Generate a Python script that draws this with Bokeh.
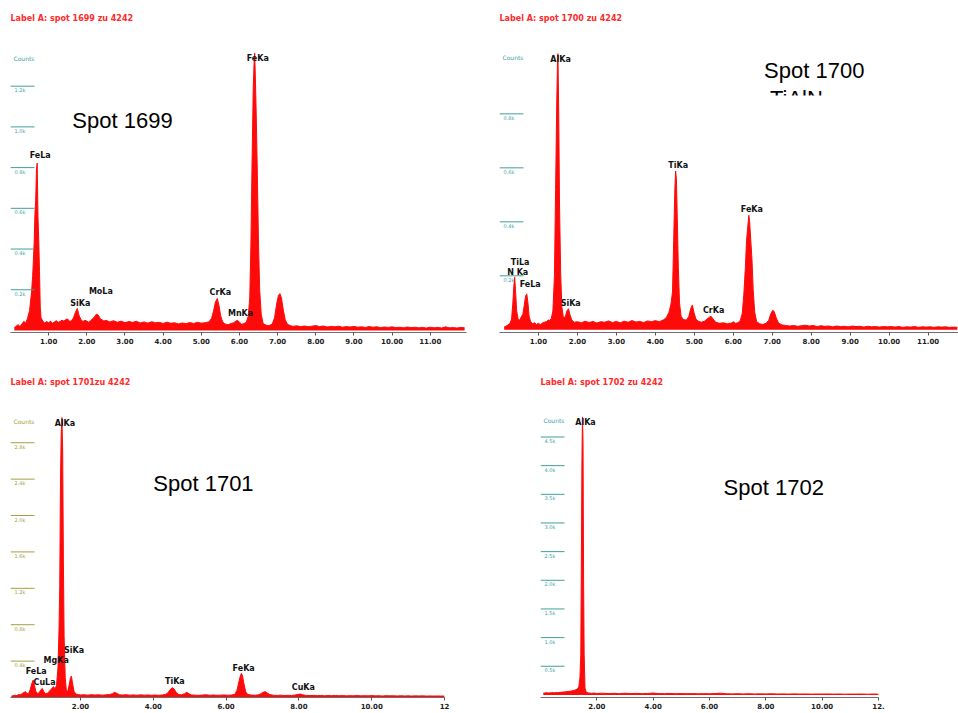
from bokeh.plotting import figure
from bokeh.layouts import column, row
from bokeh.models import (Range1d, FixedTicker, PrintfTickFormatter, Label,
                          BoxAnnotation, ColumnDataSource)
from bokeh.core.properties import value
from bokeh.embed import file_html
from bokeh.resources import INLINE

# ---------------------------------------------------------------------------
# EDX spectra: (energy in keV, counts)
# ---------------------------------------------------------------------------
spot1699 = [
    (0.10, 12), (0.15, 22), (0.20, 28), (0.25, 20), (0.30, 32), (0.35, 45), (0.40, 36),
    (0.45, 62), (0.50, 98), (0.55, 185), (0.58, 265), (0.60, 345), (0.62, 430), (0.64, 570),
    (0.66, 640), (0.68, 790), (0.70, 822), (0.72, 560), (0.74, 445), (0.76, 290), (0.78, 115),
    (0.80, 62), (0.85, 45), (0.90, 36), (0.95, 44), (1.00, 38), (1.05, 46), (1.10, 35),
    (1.15, 42), (1.20, 48), (1.25, 40), (1.30, 44), (1.35, 50), (1.40, 46), (1.45, 54),
    (1.50, 56), (1.55, 44), (1.60, 48), (1.65, 62), (1.70, 88), (1.75, 108), (1.80, 72),
    (1.85, 52), (1.90, 44), (1.95, 50), (2.00, 46), (2.05, 40), (2.10, 48), (2.15, 58),
    (2.20, 66), (2.25, 80), (2.30, 76), (2.35, 58), (2.40, 52), (2.45, 46), (2.50, 50),
    (2.60, 42), (2.70, 48), (2.80, 40), (2.90, 46), (3.00, 38), (3.10, 44), (3.20, 40),
    (3.30, 45), (3.40, 37), (3.50, 42), (3.60, 36), (3.70, 43), (3.80, 38), (3.90, 40),
    (4.00, 34), (4.10, 41), (4.20, 35), (4.30, 38), (4.40, 32), (4.50, 37), (4.60, 33),
    (4.70, 39), (4.80, 34), (4.90, 40), (5.00, 36), (5.10, 38), (5.20, 42), (5.27, 60),
    (5.32, 95), (5.37, 140), (5.42, 157), (5.46, 125), (5.51, 70), (5.56, 42), (5.62, 32),
    (5.70, 28), (5.78, 34), (5.85, 38), (5.91, 46), (5.95, 50), (6.00, 40), (6.06, 30),
    (6.12, 34), (6.18, 40), (6.23, 70), (6.27, 160), (6.30, 420), (6.33, 820), (6.36, 1180),
    (6.38, 1300), (6.40, 1362), (6.42, 1220), (6.44, 1060), (6.47, 760), (6.50, 420),
    (6.53, 200), (6.57, 80), (6.62, 34), (6.70, 26), (6.78, 24), (6.86, 32), (6.92, 62),
    (6.97, 125), (7.02, 172), (7.06, 181), (7.10, 160), (7.15, 100), (7.20, 52), (7.26, 30),
    (7.33, 24), (7.40, 20), (7.50, 23), (7.60, 19), (7.70, 22), (7.80, 18), (7.90, 21),
    (8.00, 24), (8.10, 19), (8.20, 22), (8.30, 17), (8.40, 20), (8.50, 18), (8.60, 21),
    (8.70, 16), (8.80, 19), (8.90, 17), (9.00, 20), (9.10, 16), (9.20, 18), (9.30, 15),
    (9.40, 19), (9.50, 16), (9.60, 18), (9.70, 14), (9.80, 17), (9.90, 15), (10.00, 18),
    (10.10, 14), (10.20, 16), (10.30, 13), (10.40, 17), (10.50, 14), (10.60, 16), (10.70, 13),
    (10.80, 15), (10.90, 12), (11.00, 16), (11.10, 13), (11.20, 15), (11.30, 12), (11.40, 18),
    (11.50, 13), (11.60, 14), (11.70, 12), (11.80, 15), (11.90, 13),
]

spot1700 = [
    (0.12, 10), (0.17, 14), (0.22, 18), (0.27, 24), (0.31, 40), (0.34, 95), (0.37, 165),
    (0.39, 195), (0.41, 150), (0.44, 70), (0.48, 38), (0.52, 36), (0.56, 48), (0.60, 58),
    (0.64, 95), (0.67, 125), (0.70, 133), (0.73, 100), (0.76, 50), (0.80, 30), (0.85, 22),
    (0.90, 26), (0.95, 20), (1.00, 24), (1.05, 19), (1.10, 25), (1.15, 28), (1.20, 30),
    (1.25, 36), (1.29, 35), (1.33, 42), (1.37, 70), (1.41, 200), (1.44, 520), (1.47, 850),
    (1.49, 1000), (1.50, 1023), (1.52, 800), (1.54, 470), (1.57, 210), (1.60, 85), (1.64, 45),
    (1.69, 48), (1.73, 70), (1.77, 78), (1.81, 55), (1.86, 35), (1.92, 28), (2.00, 30),
    (2.10, 26), (2.20, 32), (2.30, 27), (2.40, 31), (2.50, 25), (2.60, 30), (2.70, 28),
    (2.80, 33), (2.90, 27), (3.00, 31), (3.10, 26), (3.20, 32), (3.30, 28), (3.40, 34),
    (3.50, 29), (3.60, 31), (3.70, 27), (3.80, 33), (3.90, 30), (4.00, 34), (4.10, 30),
    (4.20, 36), (4.28, 45), (4.35, 65), (4.40, 95), (4.44, 140), (4.47, 330), (4.50, 520),
    (4.52, 588), (4.54, 560), (4.56, 430), (4.59, 230), (4.62, 100), (4.66, 50), (4.72, 38),
    (4.80, 36), (4.86, 50), (4.91, 80), (4.95, 92), (4.99, 65), (5.04, 40), (5.10, 32),
    (5.18, 28), (5.26, 32), (5.33, 40), (5.38, 46), (5.43, 50), (5.48, 40), (5.55, 28),
    (5.65, 24), (5.75, 26), (5.85, 22), (5.95, 25), (6.00, 30), (6.05, 24), (6.12, 26),
    (6.18, 35), (6.23, 60), (6.27, 130), (6.31, 230), (6.34, 330), (6.37, 380), (6.40, 424),
    (6.42, 400), (6.45, 330), (6.48, 260), (6.51, 150), (6.55, 65), (6.60, 30), (6.68, 22),
    (6.76, 20), (6.84, 24), (6.91, 35), (6.96, 58), (7.01, 72), (7.05, 68), (7.10, 45),
    (7.16, 25), (7.25, 18), (7.35, 16), (7.45, 14), (7.55, 16), (7.65, 13), (7.75, 15),
    (7.85, 17), (7.95, 14), (8.05, 16), (8.15, 12), (8.25, 15), (8.35, 13), (8.45, 14),
    (8.55, 11), (8.65, 14), (8.75, 12), (8.85, 13), (8.95, 11), (9.05, 14), (9.15, 12),
    (9.25, 13), (9.35, 10), (9.45, 13), (9.55, 11), (9.65, 12), (9.75, 10), (9.85, 12),
    (9.95, 11), (10.05, 12), (10.15, 10), (10.25, 12), (10.35, 9), (10.45, 11), (10.55, 10),
    (10.65, 12), (10.75, 9), (10.85, 11), (10.95, 10), (11.05, 11), (11.15, 9), (11.25, 11),
    (11.35, 10), (11.45, 11), (11.55, 9), (11.65, 10), (11.75, 9),
]

spot1701 = [
    (0.10, 15), (0.15, 20), (0.20, 25), (0.25, 22), (0.30, 32), (0.35, 30), (0.40, 45),
    (0.45, 55), (0.49, 65), (0.53, 42), (0.58, 48), (0.62, 90), (0.66, 150), (0.70, 192),
    (0.73, 145), (0.77, 70), (0.81, 45), (0.86, 50), (0.91, 85), (0.95, 100), (0.99, 65),
    (1.04, 42), (1.09, 48), (1.15, 70), (1.21, 100), (1.26, 119), (1.30, 95), (1.34, 130),
    (1.38, 320), (1.41, 750), (1.43, 1220), (1.45, 2390), (1.47, 2900), (1.49, 3076),
    (1.51, 2720), (1.53, 1510), (1.55, 670), (1.58, 220), (1.61, 85), (1.65, 65), (1.69, 140),
    (1.72, 210), (1.75, 236), (1.78, 160), (1.82, 70), (1.87, 38), (1.94, 32), (2.00, 28),
    (2.10, 30), (2.20, 26), (2.30, 31), (2.40, 27), (2.50, 30), (2.60, 26), (2.70, 29),
    (2.80, 33), (2.88, 42), (2.94, 57), (3.00, 45), (3.07, 30), (3.15, 27), (3.25, 30),
    (3.35, 26), (3.45, 28), (3.55, 25), (3.65, 29), (3.75, 26), (3.85, 28), (3.95, 25),
    (4.05, 27), (4.15, 24), (4.25, 28), (4.33, 34), (4.40, 50), (4.46, 85), (4.52, 108),
    (4.57, 95), (4.63, 55), (4.70, 32), (4.78, 30), (4.86, 42), (4.92, 57), (4.98, 40),
    (5.05, 28), (5.15, 26), (5.25, 24), (5.35, 27), (5.45, 30), (5.55, 25), (5.65, 27),
    (5.75, 24), (5.85, 26), (5.95, 28), (6.05, 25), (6.15, 27), (6.24, 35), (6.30, 80),
    (6.35, 170), (6.39, 235), (6.42, 265), (6.45, 240), (6.49, 150), (6.54, 60), (6.60, 32),
    (6.70, 27), (6.80, 25), (6.90, 30), (6.97, 45), (7.03, 60), (7.08, 64), (7.13, 50),
    (7.20, 32), (7.30, 25), (7.40, 23), (7.50, 26), (7.60, 22), (7.70, 24), (7.80, 22),
    (7.90, 28), (7.98, 35), (8.04, 38), (8.10, 30), (8.20, 23), (8.30, 21), (8.40, 24),
    (8.50, 20), (8.60, 22), (8.70, 19), (8.80, 21), (8.90, 20), (9.00, 22), (9.10, 19),
    (9.20, 21), (9.30, 18), (9.40, 20), (9.50, 19), (9.60, 21), (9.70, 18), (9.80, 20),
    (9.90, 18), (10.00, 21), (10.10, 18), (10.20, 19), (10.30, 17), (10.40, 20), (10.50, 18),
    (10.60, 19), (10.70, 17), (10.80, 19), (10.90, 17), (11.00, 18), (11.10, 16), (11.20, 18),
    (11.30, 17), (11.40, 18), (11.50, 16), (11.60, 17), (11.70, 16), (11.80, 17), (11.90, 16),
    (12.00, 16),
]

spot1702 = [
    (0.10, 30), (0.20, 38), (0.30, 34), (0.40, 40), (0.50, 37), (0.60, 43), (0.70, 45),
    (0.80, 50), (0.90, 55), (1.00, 62), (1.10, 68), (1.20, 80), (1.30, 98), (1.36, 140),
    (1.40, 300), (1.43, 700), (1.45, 2200), (1.47, 4000), (1.49, 4850), (1.51, 4400),
    (1.53, 2000), (1.55, 700), (1.58, 120), (1.62, 50), (1.70, 35), (1.80, 28), (1.90, 32),
    (2.00, 25), (2.20, 30), (2.40, 24), (2.60, 28), (2.80, 22), (3.00, 30), (3.20, 24),
    (3.40, 27), (3.60, 22), (3.80, 26), (4.00, 32), (4.20, 24), (4.40, 22), (4.60, 26),
    (4.80, 21), (5.00, 24), (5.20, 20), (5.40, 23), (5.60, 19), (5.80, 22), (6.00, 20),
    (6.20, 24), (6.40, 30), (6.60, 20), (6.80, 18), (7.00, 21), (7.20, 17), (7.40, 20),
    (7.60, 16), (7.80, 19), (8.00, 17), (8.20, 20), (8.40, 16), (8.60, 18), (8.80, 15),
    (9.00, 18), (9.20, 15), (9.40, 17), (9.60, 14), (9.80, 16), (10.00, 15), (10.20, 17),
    (10.40, 14), (10.60, 16), (10.80, 13), (11.00, 15), (11.20, 14), (11.40, 16),
    (11.60, 13), (11.80, 15), (12.00, 14),
]

# Peak identifications: line name, line energy (keV), height of the tag (counts)
lines_1699 = ["FeLa", "SiKa", "MoLa", "CrKa", "MnKa", "FeKa"]
lines_1699_kev = [0.70, 1.75, 2.29, 5.42, 5.95, 6.40]
lines_1699_tag = [860, 133, 192, 187, 81, 1334]

lines_1700 = ["N Ka", "TiLa", "FeLa", "AlKa", "SiKa", "TiKa", "CrKa", "FeKa"]
lines_1700_kev = [0.39, 0.45, 0.71, 1.49, 1.75, 4.51, 5.42, 6.40]
lines_1700_tag = [212, 251, 166, 1001, 99, 609, 71, 445]

lines_1701 = ["FeLa", "CuLa", "MgKa", "AlKa", "SiKa", "TiKa", "FeKa", "CuKa"]
lines_1701_kev = [0.70, 0.93, 1.25, 1.49, 1.74, 4.51, 6.40, 8.04]
lines_1701_tag = [286, 165, 407, 3006, 522, 176, 324, 115]

lines_1702 = ["AlKa"]
lines_1702_kev = [1.49]
lines_1702_tag = [4746]

# Count-axis ticks
yticks_1699 = [200, 400, 600, 800, 1000, 1200]
yticks_1699_text = ["0.2k", "0.4k", "0.6k", "0.8k", "1.0k", "1.2k"]
yticks_1700 = [200, 400, 600, 800]
yticks_1700_text = ["0.2k", "0.4k", "0.6k", "0.8k"]
yticks_1701 = [400, 800, 1200, 1600, 2000, 2400, 2800]
yticks_1701_text = ["0.4k", "0.8k", "1.2k", "1.6k", "2.0k", "2.4k", "2.8k"]
yticks_1702 = [500, 1000, 1500, 2000, 2500, 3000, 3500, 4000, 4500]
yticks_1702_text = ["0.5k", "1.0k", "1.5k", "2.0k", "2.5k", "3.0k", "3.5k", "4.0k", "4.5k"]

# Energy-axis ticks (keV)
xticks_1699 = [1, 2, 3, 4, 5, 6, 7, 8, 9, 10, 11]
xticks_1700 = [1, 2, 3, 4, 5, 6, 7, 8, 9, 10, 11]
xticks_1701 = [2, 4, 6, 8, 10, 12]
xticks_1702 = [2, 4, 6, 8, 10, 12]

# ---------------------------------------------------------------------------
SPEC_RED = "#ff0a0a"
TITLE_RED = "#ff2a2a"
TEAL = "#3f9f9f"
OLIVE = "#a3a040"
SCALE_TICK_PX = 24   # length of the count-scale tick bars


def spectrum_panel(title, spectrum, lines, lines_kev, lines_tag,
                   yticks, yticks_text, xticks, scale_color,
                   width, height, borders, x_range, y_range,
                   counts_y, last_tick_text=None):
    left, right, top, bottom = borders
    p = figure(width=width, height=height, output_backend="svg",
               toolbar_location=None, tools="",
               x_range=Range1d(*x_range), y_range=Range1d(*y_range),
               min_border_left=left, min_border_right=right,
               min_border_top=top, min_border_bottom=bottom)
    p.outline_line_color = None
    p.grid.visible = False
    p.background_fill_color = "white"
    p.border_fill_color = "white"

    p.title.text = title
    p.title.text_font = "DejaVu Sans"
    p.title.text_font_style = "bold"
    p.title.text_font_size = "8px"
    p.title.text_color = TITLE_RED
    p.title.align = "left"
    p.title.offset = 0
    p.title.standoff = 4

    kev = [e for e, _ in spectrum]
    counts = [c for _, c in spectrum]
    src = ColumnDataSource(dict(kev=kev, counts=counts))
    p.varea(x="kev", y1=0, y2="counts", source=src, fill_color=SPEC_RED)
    p.line(x="kev", y="counts", source=src, line_color=SPEC_RED, line_width=1)

    # energy axis
    xa = p.xaxis[0]
    xa.ticker = FixedTicker(ticks=xticks)
    xa.formatter = PrintfTickFormatter(format="%.2f")
    if last_tick_text is not None:
        xa.major_label_overrides = {xticks[-1]: last_tick_text}
    xa.axis_line_color = "#6e6e6e"
    xa.major_tick_line_color = "#555555"
    xa.major_tick_out = 3
    xa.major_tick_in = 0
    xa.minor_tick_line_color = None
    xa.major_label_standoff = 2
    xa.major_label_text_font = "DejaVu Sans"
    xa.major_label_text_font_style = "bold"
    xa.major_label_text_font_size = "7px"
    xa.major_label_text_color = "#1c1c1c"

    # count scale: bars running in from the left edge, value under each bar
    p.yaxis.visible = False
    frame_w = width - left - right
    bar_len = SCALE_TICK_PX * (x_range[1] - x_range[0]) / frame_w
    x_start = x_range[0]
    tick_src = ColumnDataSource(dict(y=yticks, t=yticks_text,
                                     x0=[x_start] * len(yticks),
                                     x1=[x_start + bar_len] * len(yticks)))
    p.segment(x0="x0", y0="y", x1="x1", y1="y", source=tick_src,
              line_color=scale_color, line_width=1)
    p.text(x="x0", y="y", text="t", source=tick_src, x_offset=4, y_offset=1,
           text_font=value("DejaVu Sans"), text_font_size="5px",
           text_color=scale_color, text_baseline="top", text_align="left")

    p.add_layout(Label(x=x_start, y=counts_y, x_offset=3, text="Counts",
                       text_font="DejaVu Sans", text_font_size="6px",
                       text_color=scale_color, text_baseline="middle"))

    # element line tags
    tag_src = ColumnDataSource(dict(x=lines_kev, y=lines_tag, t=lines))
    p.text(x="x", y="y", text="t", source=tag_src, x_offset=3,
           text_font=value("DejaVu Sans"), text_font_style="bold",
           text_font_size="8px", text_color="#111111",
           text_align="center", text_baseline="middle")
    return p


def big_label(p, text, x, y):
    p.add_layout(Label(x=x, y=y, text=text,
                       text_font="Liberation Sans", text_font_size="22px",
                       text_color="black", text_baseline="middle"))


p1 = spectrum_panel("Label A: spot 1699 zu 4242", spot1699,
                    lines_1699, lines_1699_kev, lines_1699_tag,
                    yticks_1699, yticks_1699_text, xticks_1699, TEAL,
                    478, 360, (10, 12, 24, 28), (0, 11.95), (-10, 1503), 1338)
big_label(p1, "Spot 1699", 1.62, 1032)

p2 = spectrum_panel("Label A: spot 1700 zu 4242", spot1700,
                    lines_1700, lines_1700_kev, lines_1700_tag,
                    yticks_1700, yticks_1700_text, xticks_1700, TEAL,
                    480, 360, (21, 0, 24, 28), (0, 11.78), (-10, 1131), 1009)
# coating name, mostly hidden behind a blank patch
big_label(p2, "TiAlN", 6.94, 857)
p2.add_layout(BoxAnnotation(left=6.85, right=8.4, bottom=780, top=868,
                            fill_color="white", fill_alpha=1.0, line_color=None))
big_label(p2, "Spot 1700", 6.79, 960)

p3 = spectrum_panel("Label A: spot 1701zu 4242", spot1701,
                    lines_1701, lines_1701_kev, lines_1701_tag,
                    yticks_1701, yticks_1701_text, xticks_1701, OLIVE,
                    478, 353, (10, 34, 28, 16), (0.077, 12.0), (0, 3396), 3028,
                    last_tick_text="12")
big_label(p3, "Spot 1701", 4.0, 2352)

p4 = spectrum_panel("Label A: spot 1702 zu 4242", spot1702,
                    lines_1702, lines_1702_kev, lines_1702_tag,
                    yticks_1702, yticks_1702_text, xticks_1702, TEAL,
                    480, 353, (62, 80, 28, 15), (0, 12.0), (-45, 5346), 4789,
                    last_tick_text="12.")
big_label(p4, "Spot 1702", 6.5, 3615)

layout = column(row(p1, p2), row(p3, p4))

with open("out.html", "w") as f:
    f.write(file_html(layout, INLINE))
